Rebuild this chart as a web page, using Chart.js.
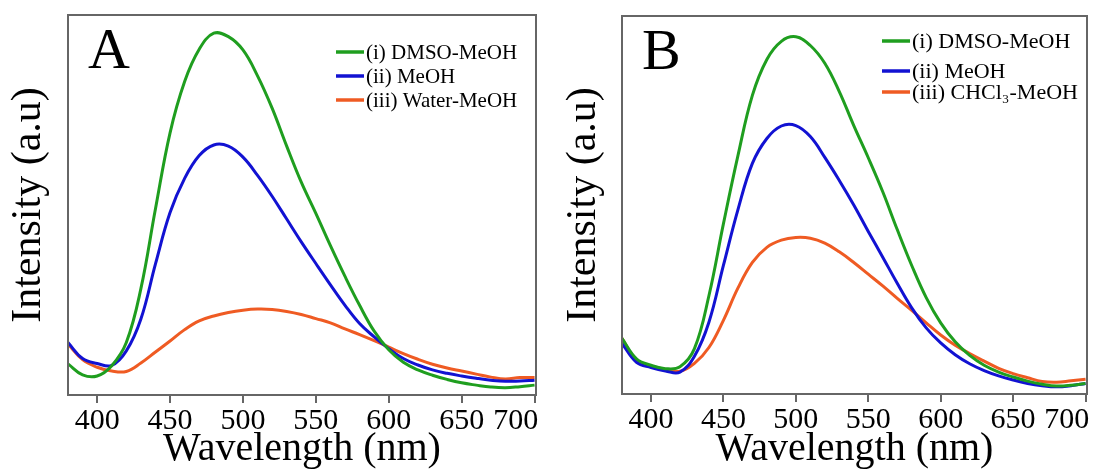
<!DOCTYPE html>
<html>
<head>
<meta charset="utf-8">
<script src="https://cdn.jsdelivr.net/npm/chart.js@4"></script>
<style>
  body { margin: 0; background: #fff; }
  #wrap { position: relative; width: 1094px; height: 475px; overflow: hidden; }
  .panel { position: absolute; top: 0; }
</style>
</head>
<body>
<div id="wrap">
  <canvas id="chartA" class="panel" style="left:0" width="547" height="475"></canvas>
  <canvas id="chartB" class="panel" style="left:547px" width="547" height="475"></canvas>
</div>
<script>
// wavelength grid (nm), shared by both panels
var wavelength = [380, 390, 400, 410, 420, 430, 440, 450, 460, 470, 480, 490, 500, 510, 520, 530, 540,
                  550, 560, 570, 580, 590, 600, 610, 620, 630, 640, 650, 660, 670, 680, 690, 700];
var xTicks = [400, 450, 500, 550, 600, 650, 700];

// panel A (a.u.)
var aDmso  = [8.2, 5.3, 5.0, 7.7, 13.8, 28, 49, 69, 82.5, 91, 95.2, 94.3, 90.8, 84, 75.5, 65.5, 56,
              47.8, 39.3, 31.2, 23.6, 16.8, 11.9, 8.6, 6.6, 5.2, 4.1, 3.2, 2.6, 2.1, 1.9, 2.2, 2.6];
var aMeoh  = [13.8, 9.6, 8.3, 7.8, 11.6, 20, 34.5, 48, 57, 63, 65.8, 65.5, 62.6, 57.8, 52.3, 46.3, 40.3,
              34.6, 29, 23.6, 18.8, 15.3, 12.2, 9.6, 7.9, 6.6, 5.7, 5.0, 4.4, 3.9, 3.6, 3.7, 3.9];
var aWater = [13.4, 9.3, 7.3, 6.3, 6.2, 8.4, 11.3, 14.2, 17.2, 19.5, 20.8, 21.7, 22.3, 22.6, 22.5, 22.0, 21.2,
              20.1, 19.0, 17.4, 15.9, 14.3, 12.6, 10.9, 9.4, 8.1, 7.1, 6.3, 5.5, 4.7, 4.2, 4.6, 4.6];

// panel B (a.u.)
var bDmso  = [14.7, 9.3, 7.6, 6.7, 7.2, 12, 26, 45, 63, 79, 88.5, 93.3, 94.5, 92.2, 87.5, 80, 71,
              62.5, 53.5, 43.5, 34, 25.5, 18.8, 13.8, 10.2, 7.6, 5.8, 4.5, 3.4, 2.6, 2.1, 2.3, 2.8];
var bMeoh  = [13.4, 8.4, 7.0, 6.1, 5.8, 10, 19, 34, 48.7, 61, 67.6, 70.9, 71.0, 68.1, 62.6, 56.5, 50,
              43, 36.2, 29.3, 22.8, 17.5, 13.5, 10.4, 8, 6.2, 4.8, 3.7, 2.8, 2.2, 1.9, 2.2, 2.8];
var bChcl3 = [14.7, 8.9, 7.4, 6.5, 6.0, 8.1, 12.3, 19.5, 28, 34.8, 38.8, 40.7, 41.4, 41.2, 39.9, 37.6, 34.8,
              31.7, 28.6, 25.3, 22.1, 18.8, 15.6, 12.9, 10.7, 8.7, 6.8, 5.4, 4.3, 3.3, 3.1, 3.5, 3.9];

var GREEN = '#1f9e1f', BLUE = '#1212d2', ORANGE = '#ef5b23';
var SERIF = '"Liberation Serif", "Times New Roman", serif';

function points(ys) {
  return wavelength.map(function(x, i) { return { x: x, y: ys[i] }; });
}

// frame, panel letter and the in-plot legend
var panelDecor = {
  id: 'panelDecor',
  afterDatasetsDraw: function(chart, args, o) {
    var ctx = chart.ctx, a = chart.chartArea;
    ctx.save();
    ctx.strokeStyle = '#666';
    ctx.lineWidth = 2;
    ctx.strokeRect(a.left, a.top, a.right - a.left, a.bottom - a.top);

    ctx.fillStyle = '#000';
    ctx.font = '58px ' + SERIF;
    ctx.textBaseline = 'alphabetic';
    ctx.textAlign = 'left';
    ctx.fillText(o.letter, a.left + 20, a.top + 53);

    ctx.font = o.legendSize + 'px ' + SERIF;
    ctx.textBaseline = 'middle';
    chart.data.datasets.forEach(function(ds, i) {
      var x = a.right - o.legendRight, y = a.top + o.rows[i];
      ctx.strokeStyle = ds.borderColor;
      ctx.lineWidth = 3.5;
      ctx.beginPath();
      ctx.moveTo(x, y);
      ctx.lineTo(x + 28, y);
      ctx.stroke();
      ctx.fillText(ds.label, x + 30, y + 1);
    });
    ctx.restore();
  }
};

function makePanel(id, letter, labels, series, p) {
  var colors = [GREEN, BLUE, ORANGE];
  return new Chart(document.getElementById(id), {
    type: 'line',
    data: {
      datasets: series.map(function(s, i) {
        return {
          label: labels[i],
          data: points(s),
          borderColor: colors[i],
          borderWidth: 3,
          pointRadius: 0,
          fill: false,
          tension: 0.4
        };
      })
    },
    options: {
      responsive: false,
      animation: false,
      layout: { padding: { left: 0, top: p.top, right: p.right, bottom: 0 } },
      plugins: {
        legend: { display: false },
        tooltip: { enabled: false },
        panelDecor: { letter: letter, legendSize: p.legendSize, legendRight: p.legendRight, rows: p.rows }
      },
      scales: {
        x: {
          type: 'linear',
          min: 380,
          max: 701,
          afterBuildTicks: function(scale) {
            scale.ticks = xTicks.map(function(v) { return { value: v }; });
          },
          afterFit: function(scale) {
            scale.height = p.xHeight;
            scale.paddingLeft = 0;
            scale.paddingRight = 0;
          },
          grid: { display: true, drawOnChartArea: false, drawTicks: true, tickLength: 8, color: '#666', lineWidth: 2 },
          border: { display: true, color: '#666', width: 2 },
          ticks: {
            autoSkip: false,
            maxRotation: 0,
            padding: 0,
            color: '#000',
            font: { family: SERIF, size: 30 },
            // the last label sits left of its tick, as in the figure
            callback: function(v) { return v === 700 ? '700     ' : String(v); }
          },
          title: {
            display: true,
            text: 'Wavelength (nm)',
            color: '#000',
            font: { family: SERIF, size: 40 },
            padding: { top: 0, bottom: 2 }
          }
        },
        y: {
          min: 0,
          max: 100,
          afterFit: function(scale) { scale.width = p.yWidth; },
          grid: { display: false },
          border: { display: false },
          ticks: { display: false },
          title: {
            display: true,
            text: 'Intensity (a.u)',
            color: '#000',
            font: { family: SERIF, size: 42 },
            padding: { top: p.yTitlePad, bottom: 0 }
          }
        }
      }
    },
    plugins: [panelDecor]
  });
}

makePanel('chartA', 'A',
  ['(i) DMSO-MeOH', '(ii) MeOH', '(iii) Water-MeOH'],
  [aDmso, aMeoh, aWater],
  { top: 15, right: 11, xHeight: 80, yWidth: 68, yTitlePad: 4, legendSize: 21, legendRight: 200, rows: [37, 61, 85] });

makePanel('chartB', 'B',
  ['(i) DMSO-MeOH', '(ii) MeOH', '(iii) CHCl\u2083-MeOH'],
  [bDmso, bMeoh, bChcl3],
  { top: 16, right: 7, xHeight: 81, yWidth: 75, yTitlePad: 12, legendSize: 22, legendRight: 205, rows: [25, 55, 76] });
</script>
</body>
</html>
